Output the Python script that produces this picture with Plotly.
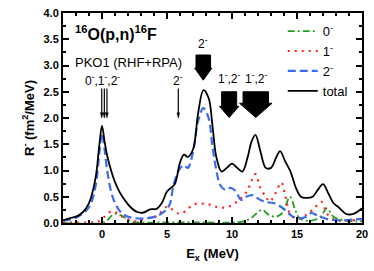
import plotly.graph_objects as go

# ---------------- data ----------------
E_total = [-3, -2.5, -2, -1.5, -1, -0.5, -0.2, 0, 0.2, 0.4, 0.7, 1.0, 1.4, 1.8, 2.2, 2.7, 3.2, 3.7, 4.2,
           4.6, 5.0, 5.3, 5.6, 6.0, 6.3, 6.6, 7.0, 7.4, 7.8, 8.2, 8.5, 8.8, 9.2, 9.6, 10.0, 10.4, 10.8,
           11.2, 11.5, 11.8, 12.2, 12.6, 13.0, 13.4, 13.7, 14.1, 14.5, 14.9, 15.3, 15.7, 16.2, 16.6,
           17.0, 17.4, 17.8, 18.2, 18.8, 19.4, 20]
R_total = [0.05, 0.09, 0.12, 0.2, 0.38, 0.85, 1.5, 1.85, 1.55, 1.28, 1.0, 0.78, 0.57, 0.42, 0.3, 0.21,
           0.2, 0.26, 0.27, 0.38, 0.6, 0.67, 0.74, 1.15, 1.3, 1.26, 1.4, 2.1, 2.53, 2.38, 1.85, 1.25,
           0.98, 1.05, 1.13, 1.05, 0.98, 1.25, 1.55, 1.68, 1.35, 1.05, 1.05, 1.25, 1.37, 1.17, 0.98,
           0.68, 0.5, 0.48, 0.5, 0.63, 0.74, 0.57, 0.38, 0.3, 0.17, 0.18, 0.28]

E_2m = [-3, -2, -1, -0.5, -0.2, 0, 0.2, 0.4, 0.7, 1.0, 1.4, 1.9, 2.6, 3.4, 4.2, 4.8, 5.2, 5.5, 5.9, 6.3,
        6.6, 7.0, 7.4, 7.8, 8.2, 8.5, 8.8, 9.1, 9.5, 9.9, 10.3, 10.7, 11.1, 11.6, 12.1, 12.6, 13.2,
        13.7, 14.2, 14.7, 15.3, 15.7, 16.1, 16.5, 17.0, 17.6, 18.5, 19.5, 20]
R_2m = [0.05, 0.1, 0.3, 0.7, 1.35, 1.71, 1.4, 1.0, 0.6, 0.38, 0.22, 0.13, 0.09, 0.09, 0.13, 0.22, 0.35,
        0.72, 1.0, 1.1, 1.05, 1.35, 1.95, 2.19, 2.0, 1.45, 1.0, 0.72, 0.63, 0.67, 0.6, 0.44, 0.5, 0.53,
        0.45, 0.4, 0.38, 0.32, 0.22, 0.12, 0.09, 0.12, 0.19, 0.15, 0.1, 0.06, 0.05, 0.07, 0.08]

E_1m = [-3, -1, -0.3, 0.2, 0.7, 1.1, 1.5, 2.0, 2.6, 3.0, 3.5, 4.2, 4.6, 5.0, 5.4, 5.9, 6.2, 6.6, 7.1,
        7.7, 8.3, 8.9, 9.6, 10.3, 10.8, 11.2, 11.5, 11.8, 12.2, 12.6, 12.9, 13.3, 13.8, 14.1, 14.5,
        15.0, 15.6, 16.2, 16.9, 17.3, 17.9, 18.6, 19.3, 19.7, 20]
R_1m = [0.01, 0.01, 0.03, 0.12, 0.22, 0.2, 0.13, 0.07, 0.03, 0.05, 0.09, 0.13, 0.22, 0.31, 0.26, 0.18,
        0.19, 0.27, 0.36, 0.37, 0.35, 0.3, 0.3, 0.39, 0.5, 0.62, 0.8, 0.93, 0.66, 0.5, 0.41, 0.55, 0.77,
        0.52, 0.16, 0.08, 0.14, 0.25, 0.4, 0.18, 0.06, 0.04, 0.05, 0.08, 0.06]

E_0m = [-3, 0, 0.4, 0.8, 1.1, 1.5, 1.9, 2.3, 3, 5, 8, 10, 10.9, 11.5, 12.3, 12.8, 13.4, 13.9, 14.45,
        14.85, 15.2, 16.0, 16.8, 17.3, 17.8, 18.6, 19.5, 20]
R_0m = [0.0, 0.0, 0.05, 0.15, 0.18, 0.14, 0.08, 0.02, 0.01, 0.01, 0.01, 0.01, 0.03, 0.1, 0.25, 0.16,
        0.12, 0.2, 0.5, 0.26, 0.09, 0.04, 0.12, 0.28, 0.12, 0.05, 0.03, 0.03]

series_names = ["0<sup>-</sup>", "1<sup>-</sup>", "2<sup>-</sup>", "total"]

# state labels and arrows
thin_arrow_E = [-0.02, 0.18, 0.38, 5.87]
thin_arrow_top, thin_arrow_tip = 2.56, 2.0
label_texts = ["0<sup>-</sup>,1<sup>-</sup>,2<sup>-</sup>", "2<sup>-</sup>", "2<sup>-</sup>",
               "1<sup>-</sup>,2<sup>-</sup>", "1<sup>-</sup>,2<sup>-</sup>"]
label_E = [0.0, 5.85, 7.8, 9.8, 11.85]
label_R = [2.72, 2.72, 3.43, 2.76, 2.76]
# big block arrows: centre E, body half width, head half width, top, body bottom, tip
big_arrows = [
    (7.79, 0.56, 0.66, 3.20, 2.95, 2.72),
    (9.78, 0.58, 0.74, 2.50, 2.22, 2.01),
    (11.83, 0.98, 1.25, 2.50, 2.28, 2.01),
]

FONT = "Arial, Liberation Sans, sans-serif"

fig = go.Figure()
fig.add_trace(go.Scatter(x=E_0m, y=R_0m, mode="lines", name=series_names[0], line_shape="spline",
                         line=dict(color="#1f9e1f", width=1.8, dash="7px,3px,2px,3px")))
fig.add_trace(go.Scatter(x=E_1m, y=R_1m, mode="lines", name=series_names[1], line_shape="spline",
                         line=dict(color="#ff2020", width=2.2, dash="2px,5px")))
fig.add_trace(go.Scatter(x=E_2m, y=R_2m, mode="lines", name=series_names[2], line_shape="spline",
                         line=dict(color="#3a6cf0", width=2.2, dash="8px,4px")))
fig.add_trace(go.Scatter(x=E_total, y=R_total, mode="lines", name=series_names[3], line_shape="spline",
                         line=dict(color="black", width=1.8)))

# thin arrows (line + small head)
for e in thin_arrow_E:
    fig.add_shape(type="line", x0=e, x1=e, y0=thin_arrow_top, y1=thin_arrow_tip + 0.06,
                  xref="x", yref="y", line=dict(color="black", width=1.2))
    fig.add_shape(type="path", xref="x", yref="y", fillcolor="black", line=dict(color="black", width=0.5),
                  path=f"M {e-0.1},{thin_arrow_tip+0.1} L {e+0.1},{thin_arrow_tip+0.1} L {e},{thin_arrow_tip} Z")

# labels
for t, e, r in zip(label_texts, label_E, label_R):
    fig.add_annotation(x=e, y=r, xref="x", yref="y", text=t, showarrow=False,
                       font=dict(family=FONT, size=12, color="black"))

# block arrows
for (c, bw, hw, top, bb, tip) in big_arrows:
    path = (f"M {c-bw},{top} L {c+bw},{top} L {c+bw},{bb} L {c+hw},{bb} L {c},{tip} "
            f"L {c-hw},{bb} L {c-bw},{bb} Z")
    fig.add_shape(type="path", path=path, xref="x", yref="y", fillcolor="black",
                  line=dict(color="black", width=1))

fig.add_annotation(x=0.035, y=0.905, xref="paper", yref="paper", xanchor="left", yanchor="middle",
                   text="<b><sup>16</sup>O(p,n)<sup>16</sup>F</b>", showarrow=False,
                   font=dict(family=FONT, size=16, color="black"))
fig.add_annotation(x=0.035, y=0.765, xref="paper", yref="paper", xanchor="left", yanchor="middle",
                   text="PKO1 (RHF+RPA)", showarrow=False,
                   font=dict(family=FONT, size=13, color="black"))

axis_common = dict(showline=True, linewidth=2, linecolor="black", mirror="ticks", ticks="inside",
                   ticklen=6, tickwidth=2, tickcolor="black", showgrid=False, zeroline=False,
                   automargin=False, tickfont=dict(family=FONT, size=11, color="black"))

fig.update_xaxes(range=[-3, 20], tick0=0, dtick=5, tickprefix="<b>", ticksuffix="</b>",
                 minor=dict(ticks="inside", ticklen=3, tickwidth=2, dtick=1, tick0=0, tickcolor="black"),
                 title=dict(text="<b>E<sub>x</sub> (MeV)</b>", font=dict(family=FONT, size=13, color="black"),
                            standoff=10),
                 **axis_common)
fig.update_yaxes(range=[0, 4.0], tick0=0, dtick=0.5, tickformat=".1f", tickprefix="<b>", ticksuffix="</b>",
                 minor=dict(ticks="inside", ticklen=3, tickwidth=2, dtick=0.25, tick0=0, tickcolor="black"),
                 title=dict(text="<b>R<sup>-</sup> (fm<sup>2</sup>/MeV)</b>",
                            font=dict(family=FONT, size=13, color="black"), standoff=6),
                 **axis_common)

fig.update_layout(
    template="none",
    width=374, height=271,
    margin=dict(l=63, r=12, t=13, b=48),
    plot_bgcolor="white", paper_bgcolor="white",
    legend=dict(x=0.735, y=0.985, xanchor="left", yanchor="top", bgcolor="rgba(0,0,0,0)",
                font=dict(family=FONT, size=13, color="black"), itemwidth=30, tracegroupgap=0,
                borderwidth=0),
    showlegend=True,
)

fig.write_html("out.html", config={"displayModeBar": False},
               post_script="document.body.style.margin='0px';")
